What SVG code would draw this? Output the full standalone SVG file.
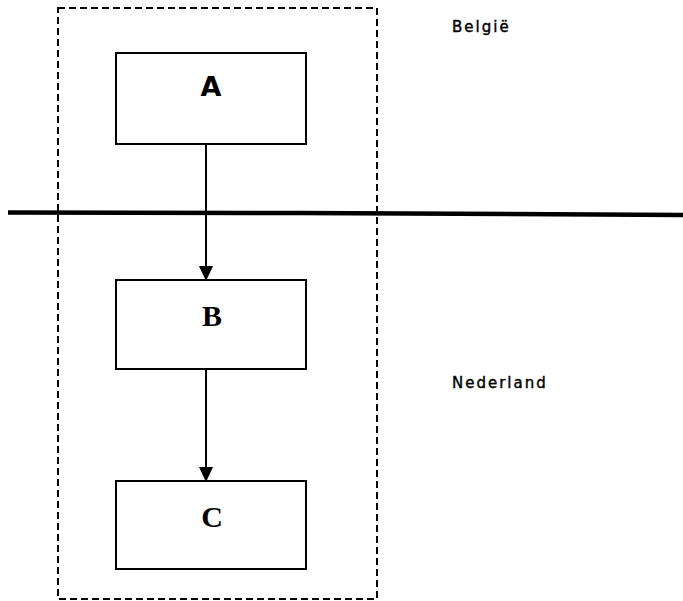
<svg xmlns="http://www.w3.org/2000/svg" width="683" height="601" viewBox="0 0 683 601">
<style>
.box{fill:#fff;stroke:#000;stroke-width:2}
.conn{stroke:#000;stroke-width:2;fill:none}
.lbl{font-family:"DejaVu Sans",sans-serif;font-size:15px;letter-spacing:2px;fill:#000;stroke:#000;stroke-width:0.4}
</style>
<defs>
<marker id="arr" markerWidth="14" markerHeight="16" refX="14" refY="8" orient="auto" markerUnits="userSpaceOnUse">
<path d="M0,1 L15,8 L0,15 Z" fill="#000"/>
</marker>
</defs>
<rect width="683" height="601" fill="#fff"/>
<g id="region">
<rect x="58" y="8" width="319" height="591" fill="none" stroke="#000" stroke-width="2" stroke-dasharray="7,4"/>
</g>
<g id="border">
<path d="M8,212.5 L300,213 L683,215" stroke="#000" stroke-width="4.5" fill="none"/>
</g>
<g id="connectors">
<line class="conn" x1="206" y1="144" x2="206" y2="280" marker-end="url(#arr)"/>
<line class="conn" x1="206" y1="369" x2="206" y2="481" marker-end="url(#arr)"/>
</g>
<g id="A">
<rect class="box" x="116" y="53" width="190" height="91"/>
<text x="211" y="96" text-anchor="middle" font-family="DejaVu Sans,sans-serif" font-weight="bold" font-size="27">A</text>
</g>
<g id="B">
<rect class="box" x="116" y="280" width="190" height="89"/>
<text x="212" y="326" text-anchor="middle" font-family="Liberation Serif,serif" font-weight="bold" font-size="30">B</text>
</g>
<g id="C">
<rect class="box" x="116" y="481" width="190" height="88"/>
<text x="212" y="527" text-anchor="middle" font-family="Liberation Serif,serif" font-weight="bold" font-size="30">C</text>
</g>
<g id="labels">
<text class="lbl" x="452" y="32">België</text>
<text class="lbl" x="452" y="388">Nederland</text>
</g>
</svg>
